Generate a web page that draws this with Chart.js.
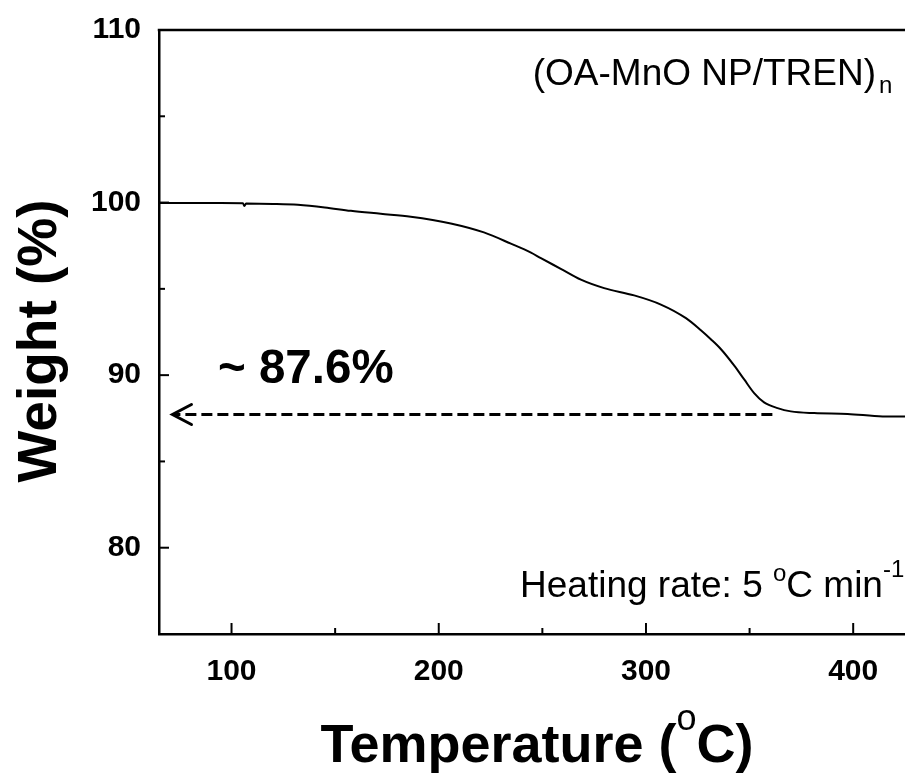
<!DOCTYPE html>
<html>
<head>
<meta charset="utf-8">
<script src="https://cdn.jsdelivr.net/npm/chart.js@4.4.1/dist/chart.umd.min.js"></script>
<style>
  html, body { margin: 0; padding: 0; background: #fff; }
  canvas { display: block; }
</style>
</head>
<body>
<canvas id="graficoTGA" width="905" height="778"></canvas>
<script>
// Curva TGA: temperatura (°C) x massa residual (%)
const temperatura = [65, 80, 95, 105.5, 106.2, 107, 120, 132, 145, 157.6, 172, 186.5, 205.8, 221.8, 234.8, 244.5, 249.3, 258.9, 268.6, 279.8, 294.3, 307.2, 319.3, 326.5, 331.3, 336.2, 342.6, 347.4, 352.2, 357.0, 363.5, 369.9, 381.2, 397.3, 414.2, 425];
const peso = [99.98, 99.98, 99.97, 99.96, 99.8, 99.94, 99.92, 99.87, 99.72, 99.52, 99.35, 99.18, 98.79, 98.27, 97.62, 97.1, 96.78, 96.16, 95.53, 95.04, 94.62, 94.09, 93.3, 92.6, 92.08, 91.5, 90.55, 89.75, 88.96, 88.42, 88.09, 87.9, 87.8, 87.75, 87.61, 87.6];

// Marcas dos eixos
const ticksX = [100, 200, 300, 400];
const ticksXMenores = [150, 250, 350];
const ticksY = [80, 90, 100, 110];
const ticksYMenores = [85, 95, 105];

// Seta tracejada indicando o residuo final
const setaPeso = 87.72;
const setaInicio = 361;
const setaFim = 71.5;

const FONTE = "'Liberation Sans', Arial, sans-serif";
Chart.defaults.font.family = FONTE;
Chart.defaults.color = '#000';

const extras = {
  id: 'extras',
  afterDraw(chart) {
    const { ctx, chartArea: a, scales: { x, y } } = chart;
    ctx.save();
    ctx.strokeStyle = '#000';
    ctx.fillStyle = '#000';
    ctx.lineWidth = 2.5;

    // borda superior
    ctx.beginPath();
    ctx.moveTo(a.left - 1.25, a.top);
    ctx.lineTo(a.right, a.top);
    ctx.stroke();

    // marcas voltadas para dentro
    ctx.lineWidth = 2;
    const marcaX = (v, len) => {
      const px = x.getPixelForValue(v);
      ctx.beginPath(); ctx.moveTo(px, a.bottom); ctx.lineTo(px, a.bottom - len); ctx.stroke();
    };
    const marcaY = (v, len) => {
      const py = y.getPixelForValue(v);
      ctx.beginPath(); ctx.moveTo(a.left, py); ctx.lineTo(a.left + len, py); ctx.stroke();
    };
    ticksX.forEach(v => marcaX(v, 11));
    ticksXMenores.forEach(v => marcaX(v, 6));
    ticksY.forEach(v => marcaY(v, 10));
    ticksYMenores.forEach(v => marcaY(v, 6));

    // ponta da seta
    const px = x.getPixelForValue(setaFim);
    const py = y.getPixelForValue(setaPeso);
    ctx.lineWidth = 3;
    ctx.lineCap = 'round';
    ctx.beginPath();
    ctx.moveTo(px + 19, py - 10);
    ctx.lineTo(px, py);
    ctx.lineTo(px + 19, py + 10);
    ctx.stroke();
    ctx.lineCap = 'butt';

    // rotulo do residuo
    ctx.textBaseline = 'alphabetic';
    ctx.textAlign = 'left';
    ctx.font = 'bold 47.5px ' + FONTE;
    ctx.fillText('~ 87.6%', 218, 383);

    // identificacao da amostra
    ctx.font = '37px ' + FONTE;
    ctx.textAlign = 'right';
    ctx.fillText('(OA-MnO NP/TREN)', 876, 85);
    ctx.textAlign = 'left';
    ctx.font = '24px ' + FONTE;
    ctx.fillText('n', 879, 93);

    // taxa de aquecimento
    let cx = 520;
    const pedaco = (txt, fonte, dy) => {
      ctx.font = fonte;
      ctx.fillText(txt, cx, 597 + dy);
      cx += ctx.measureText(txt).width;
    };
    pedaco('Heating rate: 5 ', '37px ' + FONTE, 0);
    pedaco('o', '24px ' + FONTE, -16);
    pedaco('C min', '37px ' + FONTE, 0);
    pedaco('-1', '24px ' + FONTE, -20);

    // titulo do eixo x
    ctx.font = 'bold 54px ' + FONTE;
    const t1 = 'Temperature (';
    const t2 = 'C)';
    const w1 = ctx.measureText(t1).width;
    const w2 = ctx.measureText(t2).width;
    ctx.font = '36px ' + FONTE;
    const wo = ctx.measureText('o').width;
    let tx = 537 - (w1 + wo + w2) / 2;
    ctx.font = 'bold 54px ' + FONTE;
    ctx.fillText(t1, tx, 762);
    tx += w1;
    ctx.font = '36px ' + FONTE;
    ctx.fillText('o', tx, 730);
    tx += wo;
    ctx.font = 'bold 54px ' + FONTE;
    ctx.fillText(t2, tx, 762);

    // titulo do eixo y
    ctx.save();
    ctx.translate(56, 341);
    ctx.rotate(-Math.PI / 2);
    ctx.textAlign = 'center';
    ctx.font = 'bold 55px ' + FONTE;
    ctx.fillText('Weight (%)', 0, 0);
    ctx.restore();

    ctx.restore();
  }
};

new Chart(document.getElementById('graficoTGA'), {
  type: 'scatter',
  data: {
    datasets: [
      {
        data: temperatura.map((t, i) => ({ x: t, y: peso[i] })),
        showLine: true,
        borderColor: '#000',
        borderWidth: 2,
        pointRadius: 0,
        cubicInterpolationMode: 'monotone'
      },
      {
        data: [{ x: setaInicio, y: setaPeso }, { x: setaFim + 1, y: setaPeso }],
        showLine: true,
        borderColor: '#000',
        borderWidth: 3,
        borderDash: [11, 5],
        pointRadius: 0
      }
    ]
  },
  options: {
    responsive: false,
    animation: false,
    layout: { padding: { top: 30, right: 0, bottom: 0, left: 0 } },
    plugins: { legend: { display: false }, tooltip: { enabled: false } },
    scales: {
      x: {
        type: 'linear',
        min: 65,
        max: 425,
        afterBuildTicks: s => { s.ticks = ticksX.map(v => ({ value: v })); },
        afterFit: s => { s.height = 144; s.paddingLeft = 0; s.paddingRight = 0; },
        grid: { display: false, drawTicks: false },
        border: { display: true, color: '#000', width: 2.5 },
        ticks: { font: { size: 30, weight: 'bold' }, padding: 20, color: '#000', maxRotation: 0 }
      },
      y: {
        type: 'linear',
        min: 75,
        max: 110,
        afterBuildTicks: s => { s.ticks = ticksY.map(v => ({ value: v })); },
        afterFit: s => { s.width = 159; s.paddingTop = 0; s.paddingBottom = 0; },
        grid: { display: false, drawTicks: false },
        border: { display: true, color: '#000', width: 2.5 },
        ticks: { font: { size: 30, weight: 'bold' }, padding: 18, color: '#000' }
      }
    }
  },
  plugins: [extras]
});
</script>
</body>
</html>
